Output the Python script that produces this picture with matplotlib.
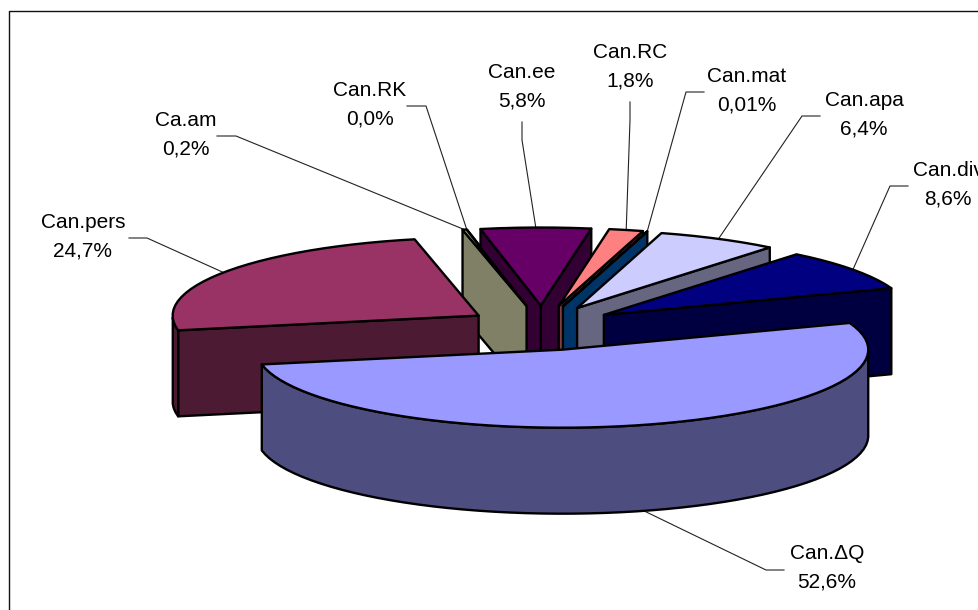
import numpy as np
from matplotlib import pyplot as plt
from matplotlib.patches import Polygon

# order is counter clockwise, starting with the big slice
names = ['Can.ΔQ', 'Can.div', 'Can.apa', 'Can.mat', 'Can.RC', 'Can.ee', 'Can.RK', 'Ca.am', 'Can.pers']
values = [52.6, 8.6, 6.4, 0.01, 1.8, 5.8, 0.0, 0.2, 24.7]
value_labels = ['52,6%', '8,6%', '6,4%', '0,01%', '1,8%', '5,8%', '0,0%', '0,2%', '24,7%']
top_colors = ['#9999ff', '#000080', '#ccccff', '#0066cc', '#ff8080', '#660066', '#ccffff', '#ffffcc', '#993366']

# label centre and the leader knee, in pixels
label_pos = [(827, 568), (948, 185), (864, 115), (747, 91), (630, 66.5), (522, 87), (370, 104.5), (186, 135), (83, 237)]
knee_pos = [(766, 570), (890, 186), (802, 116), (686, 92), (630, 120), (522, 140), (426, 106), (236, 136), (147, 238)]
knee_start = [(784, 570), (908, 186), (820, 116), (704, 92), (630, 102), (522, 122), (407, 106), (217, 136), (129, 238)]

cx, cy = 542, 328
rx, ry = 306, 78
ex, ey = 76, 22.5
depth = 86
start = 190.9

fig = plt.figure(figsize=(9.79, 6.10), dpi=100)
ax = fig.add_axes([0, 0, 1, 1])
ax.set_xlim(0, 979)
ax.set_ylim(610, 0)
ax.axis('off')
plt.rcParams['font.family'] = ['Liberation Sans', 'DejaVu Sans']

ax.plot([9.5, 9.5, 979], [610, 10.5, 10.5], color='#111111', lw=1.0)

angles = start + np.cumsum([0] + values) / sum(values) * 360


def shade(col):
    rgb = np.array(plt.matplotlib.colors.to_rgb(col)) / 2
    return tuple(rgb)


def arc(x0, y0, t1, t2):
    n = max(int((t2 - t1) / 3), 1) + 1
    t = np.radians(np.linspace(t1, t2, n))
    return np.column_stack([x0 + rx * np.cos(t), y0 - ry * np.sin(t)])


def slice_apex(t1, t2):
    mid = np.radians((t1 + t2) / 2)
    return cx + ex * np.cos(mid), cy - ey * np.sin(mid)


def add_poly(pts, col, z):
    ax.add_patch(Polygon(pts, closed=True, facecolor=col, edgecolor='black', lw=1.7, joinstyle='round', zorder=z))


# back slices first, big one at the very end
draw_order = [6, 5, 7, 4, 3, 2, 1, 8, 0]
for z, i in enumerate(draw_order):
    t1, t2 = angles[i], angles[i + 1]
    x0, y0 = slice_apex(t1, t2)
    side = shade(top_colors[i])
    zz = 2 + z
    down = np.array([0, depth])
    # radial faces looking at the viewer
    if np.cos(np.radians(t1)) > 0:
        p = arc(x0, y0, t1, t1)[0]
        add_poly([(x0, y0), p, p + down, (x0, y0 + depth)], side, zz)
    if np.cos(np.radians(t2)) < 0:
        p = arc(x0, y0, t2, t2)[0]
        add_poly([(x0, y0), p, p + down, (x0, y0 + depth)], side, zz)
    # outer wall, only the front half of the ellipse
    pts = arc(x0, y0, t1, t2)
    tt = np.linspace(t1, t2, len(pts))
    front = pts[np.sin(np.radians(tt)) <= 0]
    if len(front) > 1:
        add_poly(np.vstack([front, (front + down)[::-1]]), side, zz)
    # top
    add_poly(np.vstack([[(x0, y0)], pts]), top_colors[i], zz)

for i, name in enumerate(names):
    t1, t2 = angles[i], angles[i + 1]
    x0, y0 = slice_apex(t1, t2)
    mid = np.radians((t1 + t2) / 2)
    px, py = x0 + rx * np.cos(mid), y0 - ry * np.sin(mid)
    if np.sin(mid) < 0:
        py += depth
    xs = [px, knee_pos[i][0], knee_start[i][0]]
    ys = [py, knee_pos[i][1], knee_start[i][1]]
    ax.plot(xs, ys, color='#222222', lw=0.8, zorder=1)
    ax.text(label_pos[i][0], label_pos[i][1], name + '\n' + value_labels[i], ha='center', va='center',
            fontsize=15, linespacing=1.65, color='black', zorder=20)

fig.savefig('out.png', dpi=100)
